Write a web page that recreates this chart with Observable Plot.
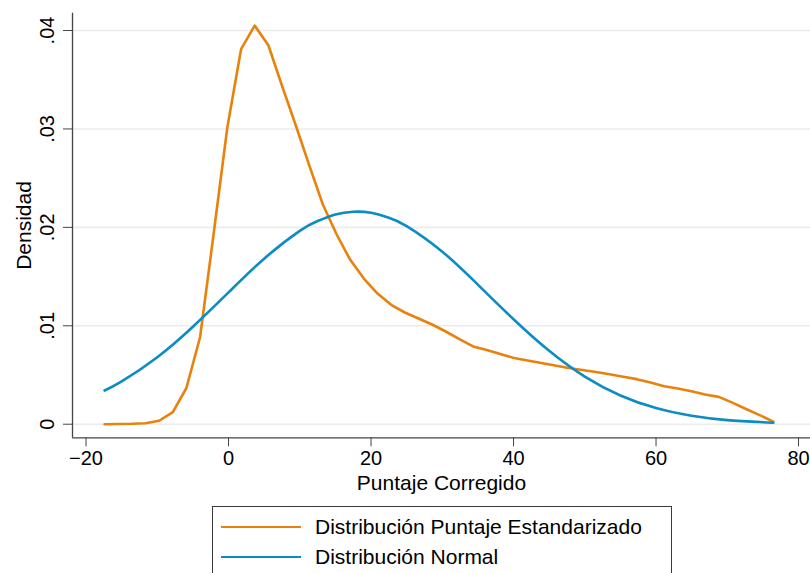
<!DOCTYPE html>
<html>
<head>
<meta charset="utf-8">
<script src="https://cdn.jsdelivr.net/npm/d3@7"></script>
<script src="https://cdn.jsdelivr.net/npm/@observablehq/plot@0.6"></script>
<style>
  html, body { margin: 0; padding: 0; background: #fff; overflow: hidden; }
  body { font-family: "Liberation Sans", Arial, Helvetica, sans-serif; color: #000; }
  #legend {
    margin: 6px 0 0 212px;
    width: 458px;
    border: 1px solid #3a3a3a;
    padding: 5px 0 40px 0;
  }
  .row { display: flex; align-items: center; height: 30px; font-size: 21px; white-space: nowrap; }
  .swatch { width: 80px; height: 0; border-top: 2.5px solid; margin-left: 8px; margin-right: 14px; }
</style>
</head>
<body>
<div id="chart"></div>
<div id="legend"></div>
<script>
// Kernel density of the corrected score (evaluation grid and estimated density)
const puntajeX = [
  -17.40, -15.48, -13.57, -11.65, -9.74, -7.82, -5.91, -3.99, -2.08, -0.16,
  1.76, 3.67, 5.59, 7.50, 9.42, 11.33, 13.25, 15.16, 17.08, 18.99,
  20.91, 22.83, 24.74, 26.66, 28.57, 30.49, 32.40, 34.32, 36.23, 38.15,
  40.07, 41.98, 43.90, 45.81, 47.73, 49.64, 51.56, 53.47, 55.39, 57.30,
  59.22, 61.14, 63.05, 64.97, 66.88, 68.80, 70.71, 72.63, 74.54, 76.46
];
const puntajeDens = [
  0.0, 0.00002, 0.00004, 0.0001, 0.00035, 0.00122, 0.00368, 0.00886, 0.0194, 0.0302,
  0.0381, 0.0405, 0.0385, 0.0344, 0.0304, 0.0263, 0.0223, 0.0193, 0.0167, 0.0148,
  0.01327, 0.01213, 0.01135, 0.01074, 0.01013, 0.00942, 0.00864, 0.0079, 0.00754, 0.00713,
  0.00673, 0.00647, 0.00622, 0.00597, 0.00571, 0.00551, 0.0053, 0.00508, 0.00483, 0.00458,
  0.00424, 0.00386, 0.00363, 0.00335, 0.00302, 0.00278, 0.00219, 0.00155, 0.00093, 0.00027
];

// Normal density overlay
const normalX = [-17.4, -15, -10, -5, 0, 5, 10, 12.5, 15, 17.5, 20, 22.5, 25, 30, 35, 40, 45, 50, 55, 60, 65, 70, 76.46];
const normalDens = [
  0.00342, 0.00435, 0.00681, 0.00991, 0.01339, 0.01682, 0.01964, 0.02064, 0.02131, 0.02159,
  0.02148, 0.02098, 0.02013, 0.01753, 0.01418, 0.01067, 0.00746, 0.00484, 0.00292, 0.00164,
  0.000855, 0.000414, 0.000146
];

const xTicks = [-20, 0, 20, 40, 60, 80];
const yTicks = [0, 0.01, 0.02, 0.03, 0.04];
const xDomain = [-21.9, 81.68];
const yDomain = [-0.00138, 0.04176];

const series = [
  {name: "Distribución Puntaje Estandarizado", color: "#e8820c"},
  {name: "Distribución Normal", color: "#0c8cc4"}
];

const puntajeData = puntajeX.map((x, i) => ({x, y: puntajeDens[i]}));
const normalData = normalX.map((x, i) => ({x, y: normalDens[i]}));

const yFmt = d => d === 0 ? "0" : d3.format(".2f")(d).replace(/^0/, "");

const chart = Plot.plot({
  width: 810,
  height: 500,
  marginLeft: 72,
  marginRight: 0,
  marginTop: 12.7,
  marginBottom: 62.7,
  style: {fontFamily: "'Liberation Sans', Arial, Helvetica, sans-serif", fontSize: "20px", background: "white", color: "black", overflow: "visible"},
  x: {domain: xDomain},
  y: {domain: yDomain},
  marks: [
    Plot.gridY(yTicks, {stroke: "#ebebeb", strokeOpacity: 1, strokeWidth: 1.6}),
    Plot.ruleX([xDomain[0]], {stroke: "#444", strokeWidth: 1.3}),
    Plot.ruleY([yDomain[0]], {stroke: "#444", strokeWidth: 1.3}),
    Plot.line(puntajeData, {x: "x", y: "y", stroke: series[0].color, strokeWidth: 2.6}),
    Plot.line(normalData, {x: "x", y: "y", stroke: series[1].color, strokeWidth: 2.6, curve: "natural"}),
    Plot.axisX(xTicks, {tickSize: 9, tickPadding: 4, fontSize: 20, label: null, stroke: "#444", fill: "black"}),
    Plot.axisY(yTicks, {tickSize: 9, tickFormat: () => "", label: null, stroke: "#444"}),
    Plot.text(yTicks, {x: xDomain[0], y: d => d, text: yFmt, rotate: -90, dx: -18.7,
      textAnchor: "middle", lineAnchor: "bottom", fontSize: 20, fill: "black"}),
    Plot.text(["Densidad"], {frameAnchor: "left", rotate: -90, dx: -42, textAnchor: "middle",
      lineAnchor: "bottom", fontSize: 21, fill: "black"}),
    Plot.text(["Puntaje Corregido"], {frameAnchor: "bottom", dy: 52, textAnchor: "middle",
      lineAnchor: "bottom", fontSize: 21, fill: "black"})
  ]
});
document.getElementById("chart").appendChild(chart);

const legend = document.getElementById("legend");
for (const s of series) {
  const row = document.createElement("div");
  row.className = "row";
  const sw = document.createElement("span");
  sw.className = "swatch";
  sw.style.borderTopColor = s.color;
  const label = document.createElement("span");
  label.textContent = s.name;
  row.appendChild(sw);
  row.appendChild(label);
  legend.appendChild(row);
}
</script>
</body>
</html>
